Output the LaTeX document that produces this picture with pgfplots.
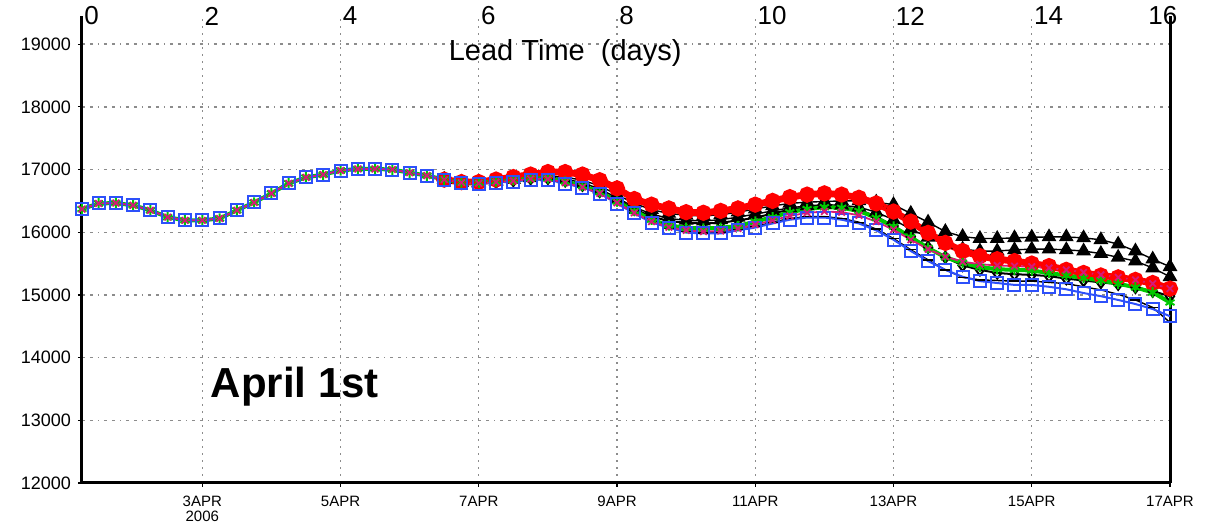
\documentclass[border=0pt]{standalone}
\usepackage{fontspec}
\setmainfont{Liberation Sans}
\usepackage{pgfplots}
\usepackage{pgfplotstable}
\pgfplotsset{compat=1.18}
\definecolor{cred}{RGB}{255,0,0}
\definecolor{cgreen}{RGB}{0,200,0}
\definecolor{cmag}{RGB}{215,25,120}
\definecolor{cblue}{RGB}{45,80,250}
\definecolor{cgrid}{RGB}{140,140,140}

\pgfplotstableread{
d     blue  mag   green
0.26  16370 16370 16370
0.5   16460 16460 16460
0.75  16465 16465 16465
1.0   16430 16430 16430
1.25  16350 16350 16350
1.5   16240 16240 16240
1.75  16190 16190 16190
2.0   16190 16190 16190
2.25  16220 16220 16220
2.5   16350 16350 16350
2.75  16475 16475 16475
3.0   16620 16620 16620
3.25  16780 16780 16780
3.5   16875 16875 16875
3.75  16920 16920 16920
4.0   16985 16985 16985
4.25  17010 17010 17010
4.5   17010 17010 17010
4.75  17000 17000 17000
5.0   16950 16950 16950
5.25  16904 16904 16904
5.5   16840 16840 16840
5.75  16793 16793 16795
6.0   16777 16780 16790
6.25  16793 16800 16810
6.5   16809 16820 16830
6.75  16840 16850 16860
7.0   16840 16850 16860
7.25  16777 16790 16810
7.5   16713 16720 16740
7.75  16617 16620 16640
8.0   16458 16470 16490
8.25  16300 16310 16340
8.5   16155 16170 16200
8.75  16075 16080 16110
9.0   15995 16030 16070
9.25  15980 16010 16060
9.5   15980 16020 16070
9.75  16030 16060 16100
10.0  16075 16120 16170
10.25 16140 16190 16240
10.5  16200 16260 16320
10.75 16235 16310 16370
11.0  16235 16330 16400
11.25 16200 16320 16390
11.5  16140 16270 16340
11.75 16030 16170 16230
12.0  15880 16040 16090
12.25 15700 15880 15920
12.5  15540 15730 15750
12.75 15400 15610 15600
13.0  15290 15530 15510
13.25 15220 15490 15445
13.5  15190 15470 15410
13.75 15160 15460 15400
14.0  15160 15450 15390
14.25 15130 15430 15350
14.5  15090 15400 15310
14.75 15030 15360 15270
15.0  14980 15320 15230
15.25 14920 15280 15180
15.5  14855 15240 15120
15.75 14775 15180 15040
16.0  14660 15100 14880
}\tabA

\pgfplotstableread{
d     red   E     F     G     H
5.5   16840 16840 16840 16840 16840
5.75  16800 16795 16795 16793 16793
6.0   16800 16790 16785 16780 16777
6.25  16840 16820 16810 16800 16793
6.5   16880 16850 16840 16825 16809
6.75  16920 16880 16870 16855 16840
7.0   16960 16900 16880 16860 16840
7.25  16960 16880 16850 16820 16777
7.5   16920 16830 16790 16750 16713
7.75  16830 16740 16690 16650 16617
8.0   16700 16600 16550 16520 16470
8.25  16530 16460 16400 16370 16310
8.5   16440 16360 16290 16250 16170
8.75  16380 16300 16220 16180 16070
9.0   16320 16270 16190 16150 16010
9.25  16310 16260 16180 16140 15990
9.5   16340 16280 16200 16150 16000
9.75  16380 16320 16240 16190 16040
10.0  16440 16370 16290 16230 16090
10.25 16500 16420 16340 16300 16160
10.5  16560 16460 16390 16360 16220
10.75 16600 16480 16420 16400 16250
11.0  16620 16490 16440 16420 16250
11.25 16600 16500 16430 16400 16220
11.5  16550 16500 16400 16360 16160
11.75 16460 16480 16320 16250 16050
12.0  16330 16440 16200 16100 15900
12.25 16170 16300 16050 15930 15720
12.5  15990 16160 15920 15760 15560
12.75 15830 16010 15800 15600 15400
13.0  15700 15930 15730 15470 15280
13.25 15620 15900 15700 15400 15240
13.5  15570 15900 15700 15350 15230
13.75 15540 15910 15720 15330 15220
14.0  15500 15920 15730 15320 15220
14.25 15460 15925 15730 15300 15200
14.5  15400 15925 15720 15260 15180
14.75 15350 15910 15700 15230 15130
15.0  15310 15880 15660 15200 15080
15.25 15280 15810 15600 15170 15010
15.5  15240 15700 15540 15120 14920
15.75 15190 15570 15430 15060 14800
16.0  15100 15450 15290 14980 14560
}\tabB

\begin{document}
\begin{tikzpicture}
\begin{axis}[
  scale only axis, width=544pt, height=233.5pt,
  xmin=0.26, xmax=16, ymin=12000, ymax=19450,
  scaled x ticks=false, scaled y ticks=false,
  axis x line*=bottom, axis y line*=box,
  axis line style={line width=1.5pt},
  xtick={2,4,6,8,10,12,14,16},
  xticklabels={{3APR\\2006},5APR,7APR,9APR,11APR,13APR,15APR,17APR},
  xticklabel style={font=\fontsize{7.5}{7.5}\selectfont, align=center, yshift=-1pt},
  ytick={12000,13000,14000,15000,16000,17000,18000,19000},
  yticklabels={12000,13000,14000,15000,16000,17000,18000,19000},
  yticklabel style={font=\fontsize{9}{9}\selectfont},
  tick align=outside, major tick length=2pt,
  tick style={black, line width=0.6pt},
  xtick pos=bottom, ytick pos=left,
  xmajorgrids, ymajorgrids,
  x grid style={cgrid, line width=0.7pt, dash pattern=on 1pt off 2.5pt},
  y grid style={cgrid, line width=0.7pt, dash pattern=on 1.5pt off 2.5pt on 1.5pt off 2.5pt on 0.5pt off 2.5pt},
]
\addplot[black, line width=0.7pt, mark=-, mark size=3.5pt] table[x=d,y=H]{\tabB};
\addplot[black, line width=1pt, mark=diamond, mark size=2.8pt, mark options={fill=white}] table[x=d,y=G]{\tabB};
\addplot[black, line width=0.7pt, mark=triangle*, mark size=3.6pt] table[x=d,y=F]{\tabB};
\addplot[black, line width=0.7pt, mark=triangle*, mark size=3.6pt] table[x=d,y=E]{\tabB};
\addplot[cred, line width=3.4pt, mark=*, mark size=2.3pt] table[x=d,y=red]{\tabB};
\addplot[cgreen, line width=2pt, mark=asterisk, mark size=2.6pt, mark options={line width=1pt}] table[x=d,y=green]{\tabA};
\addplot[cblue, line width=1pt, mark=square, mark size=3pt, mark options={fill=white}] table[x=d,y=blue]{\tabA};
\addplot[cmag, line width=0.9pt, mark=x, mark size=2.3pt] table[x=d,y=mag]{\tabA};
\node[font=\fontsize{14.5}{14.5}\selectfont] at (axis cs:7.25,18860) {Lead Time\ \ (days)};
\node[font=\bfseries\fontsize{21}{21}\selectfont] at (axis cs:3.34,13530) {April 1st};
\coordinate (BL) at (rel axis cs:0,0);
\coordinate (TR) at (rel axis cs:1,1);
\end{axis}
\begin{axis}[
  scale only axis, width=544pt, height=233.5pt,
  xmin=0.26, xmax=16, ymin=12000, ymax=19450,
  scaled x ticks=false,
  axis x line*=top, axis y line=none,
  x axis line style={draw=none},
  xtick={0.26,2,4,6,8,10,12,14,16},
  xticklabels={0,2,4,6,8,10,12,14,{\hspace*{-12pt}16}},
  major tick length=0pt,
  xticklabel style={anchor=west, font=\fontsize{13}{13}\selectfont, inner sep=1pt},
  ytick=\empty,
]
\end{axis}
\pgfresetboundingbox
\path[use as bounding box] ([shift={(-41pt,-21pt)}]BL) rectangle ([shift={(18pt,8pt)}]TR);
\end{tikzpicture}
\end{document}
